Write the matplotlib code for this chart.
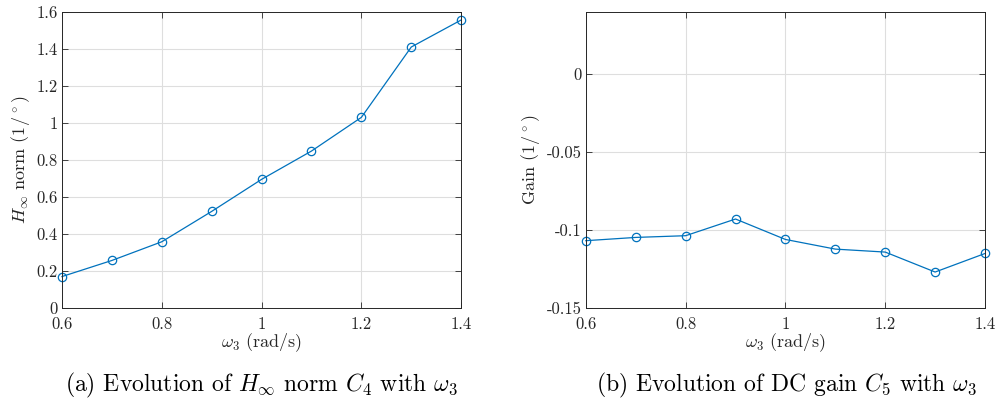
import matplotlib
matplotlib.use("Agg")
import matplotlib.pyplot as plt

plt.rcParams["font.family"] = "serif"
plt.rcParams["font.serif"] = ["cmr10"]
plt.rcParams["mathtext.fontset"] = "cm"
plt.rcParams["axes.unicode_minus"] = False
plt.rcParams["axes.formatter.use_mathtext"] = True

# data
omega = [0.6, 0.7, 0.8, 0.9, 1.0, 1.1, 1.2, 1.3, 1.4]
hinf_c4 = [0.170, 0.257, 0.358, 0.522, 0.695, 0.848, 1.030, 1.410, 1.556]
dc_gain_c5 = [-0.1068, -0.1047, -0.1036, -0.0929, -0.1060, -0.1122, -0.1141, -0.1269, -0.1150]

xticks = [0.6, 0.8, 1.0, 1.2, 1.4]
xticklabels = ["0.6", "0.8", "1", "1.2", "1.4"]
yticks_a = [0, 0.2, 0.4, 0.6, 0.8, 1.0, 1.2, 1.4, 1.6]
yticklabels_a = ["0", "0.2", "0.4", "0.6", "0.8", "1", "1.2", "1.4", "1.6"]
yticks_b = [-0.15, -0.1, -0.05, 0]
yticklabels_b = ["-0.15", "-0.1", "-0.05", "0"]

blue = "#0072BD"

fig = plt.figure(figsize=(9.98, 4.08), dpi=100)
ax1 = fig.add_axes([0.0621, 0.245, 0.400, 0.726])
ax2 = fig.add_axes([0.587, 0.245, 0.400, 0.726])


def style(ax):
    ax.grid(True, color="#dedede", linewidth=0.8)
    ax.set_axisbelow(True)
    ax.tick_params(direction="in", top=True, right=True, labelsize=12,
                   length=4, width=0.6, color="#262626", labelcolor="#262626", pad=3)
    ax.tick_params(axis="x", pad=6)
    for s in ax.spines.values():
        s.set_color("#262626")
        s.set_linewidth(0.7)
    ax.set_xticks(xticks)
    ax.set_xticklabels(xticklabels)
    ax.set_xlim(0.6, 1.4)
    ax.set_xlabel(r"$\omega_3$ (rad/s)", fontsize=13, color="#262626", labelpad=0)


ax1.plot(omega, hinf_c4, "-o", color=blue, linewidth=0.9, markersize=6,
         markerfacecolor="none", markeredgewidth=0.9, clip_on=False)
style(ax1)
ax1.set_ylim(0, 1.6)
ax1.set_yticks(yticks_a)
ax1.set_yticklabels(yticklabels_a)
ax1.set_ylabel(r"$H_\infty$ norm ($1/^\circ$)", fontsize=13, color="#262626", labelpad=3)

ax2.plot(omega, dc_gain_c5, "-o", color=blue, linewidth=0.9, markersize=6,
         markerfacecolor="none", markeredgewidth=0.9, clip_on=False)
style(ax2)
ax2.set_ylim(-0.15, 0.04)
ax2.set_yticks(yticks_b)
ax2.set_yticklabels(yticklabels_b)
ax2.set_ylabel(r"Gain ($1/^\circ$)", fontsize=13, color="#262626", labelpad=3)

fig.text(0.262, 0.055, r"(a) Evolution of $H_\infty$ norm $C_4$ with $\omega_3$",
         ha="center", va="center", fontsize=17)
fig.text(0.788, 0.055, r"(b) Evolution of DC gain $C_5$ with $\omega_3$",
         ha="center", va="center", fontsize=17)

fig.savefig("out.png", dpi=100)
